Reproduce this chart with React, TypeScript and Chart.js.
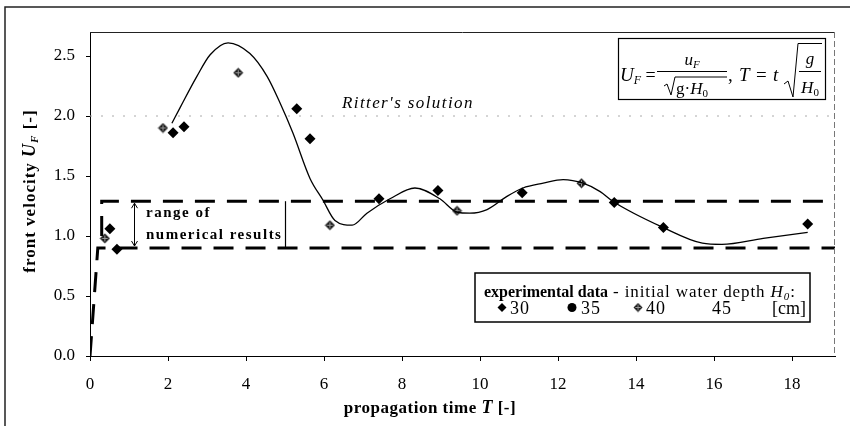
import React, { useEffect, useRef } from "react";
import { Chart, registerables } from "chart.js";

Chart.register(...registerables);

// ---- data ----
const xTicks = [0, 2, 4, 6, 8, 10, 12, 14, 16, 18];
const yTicks = [0, 0.5, 1.0, 1.5, 2.0, 2.5];

const ritterT = [2.1, 2.31, 2.74, 3.08, 3.54, 4.1, 4.54, 4.87, 5.2, 5.64, 5.97, 6.28, 6.72, 7.1, 7.69, 8.33, 8.97, 9.4, 9.74, 10.18, 10.69, 11.1, 11.62, 12.13, 12.64, 13.08, 13.4, 14.7, 15.7, 16.2, 17.26, 18.4];
const ritterU = [1.94, 2.07, 2.33, 2.51, 2.61, 2.52, 2.33, 2.11, 1.86, 1.48, 1.3, 1.13, 1.09, 1.19, 1.31, 1.4, 1.31, 1.2, 1.19, 1.22, 1.33, 1.4, 1.44, 1.47, 1.44, 1.37, 1.29, 1.07, 0.94, 0.93, 0.98, 1.03];

const exp30T = [0.51, 0.69, 2.13, 2.41, 5.3, 5.64, 7.41, 8.92, 11.08, 13.44, 14.7, 18.4];
const exp30U = [1.06, 0.89, 1.86, 1.91, 2.06, 1.81, 1.31, 1.38, 1.36, 1.28, 1.07, 1.1];

const exp40T = [0.38, 1.87, 3.8, 6.15, 9.41, 12.6];
const exp40U = [0.98, 1.9, 2.36, 1.09, 1.21, 1.44];

const ritterLevelT = [0, 19.1];
const ritterLevelU = [2.0, 2.0];

const numUpperT = [0.3, 0.3, 19.1];
const numUpperU = [1.0, 1.29, 1.29];
const numLowerT = [0, 0.2, 19.1];
const numLowerU = [0, 0.9, 0.9];

const legendDepths = ["30", "35", "40", "45"];

const SERIF = "'Liberation Serif', 'DejaVu Serif', serif";

const pts = (xs: number[], ys: number[]) => xs.map((x, i) => ({ x, y: ys[i] }));

function make40Marker(): HTMLCanvasElement {
  const c = document.createElement("canvas");
  c.width = 11;
  c.height = 11;
  const g = c.getContext("2d")!;
  g.fillStyle = "#1a1a1a";
  g.beginPath();
  g.moveTo(5.5, 0.5);
  g.lineTo(10.5, 5.5);
  g.lineTo(5.5, 10.5);
  g.lineTo(0.5, 5.5);
  g.closePath();
  g.fill();
  g.strokeStyle = "#999";
  g.lineWidth = 1;
  g.beginPath();
  g.moveTo(5.5, 2.5);
  g.lineTo(5.5, 8.5);
  g.moveTo(2.5, 5.5);
  g.lineTo(8.5, 5.5);
  g.stroke();
  return c;
}

type Seg = { t: string; f: string; dy?: number };

function richWidth(ctx: CanvasRenderingContext2D, segs: Seg[]) {
  let w = 0;
  for (const s of segs) {
    ctx.font = s.f;
    w += ctx.measureText(s.t).width;
  }
  return w;
}

function drawRich(ctx: CanvasRenderingContext2D, x: number, y: number, segs: Seg[], align: "left" | "center" = "left", spacing = "0px"): number {
  (ctx as any).letterSpacing = spacing;
  let cx = align === "center" ? x - richWidth(ctx, segs) / 2 : x;
  ctx.textAlign = "left";
  for (const s of segs) {
    ctx.font = s.f;
    ctx.fillText(s.t, cx, y + (s.dy || 0));
    cx += ctx.measureText(s.t).width;
  }
  (ctx as any).letterSpacing = "0px";
  return cx;
}

const annotations = {
  id: "annotations",
  afterDraw(chart: any) {
    const ctx: CanvasRenderingContext2D = chart.ctx;
    const a = chart.chartArea;
    const ys = chart.scales.y;
    ctx.save();

    // outer frame
    ctx.lineWidth = 1.5;
    ctx.strokeStyle = "#222";
    ctx.beginPath();
    ctx.moveTo(5, 426);
    ctx.lineTo(5, 7);
    ctx.lineTo(850, 7);
    ctx.stroke();

    // plot frame top / right
    ctx.lineWidth = 1;
    ctx.strokeStyle = "#222";
    ctx.beginPath();
    ctx.moveTo(a.left, a.top + 0.5);
    ctx.lineTo(a.right, a.top + 0.5);
    ctx.stroke();
    ctx.strokeStyle = "#777";
    ctx.setLineDash([6, 3]);
    ctx.beginPath();
    ctx.moveTo(a.right - 0.5, a.top);
    ctx.lineTo(a.right - 0.5, a.bottom);
    ctx.stroke();
    ctx.setLineDash([]);

    ctx.fillStyle = "#000";
    ctx.strokeStyle = "#000";
    ctx.textBaseline = "alphabetic";

    // axis titles
    drawRich(ctx, 430, 413, [
      { t: "propagation time ", f: `bold 17px ${SERIF}` },
      { t: "T", f: `italic bold 18px ${SERIF}` },
      { t: " [-]", f: `bold 17px ${SERIF}` },
    ], "center", "0.5px");

    ctx.save();
    ctx.translate(35, 191);
    ctx.rotate(-Math.PI / 2);
    drawRich(ctx, 0, 0, [
      { t: "front velocity ", f: `bold 17px ${SERIF}` },
      { t: "U", f: `italic bold 18px ${SERIF}` },
      { t: "F", f: `italic bold 11px ${SERIF}`, dy: 3 },
      { t: " [-]", f: `bold 17px ${SERIF}` },
    ], "center", "1px");
    ctx.restore();

    // Ritter label
    drawRich(ctx, 342, 108, [{ t: "Ritter's solution", f: `italic 17px ${SERIF}` }], "left", "1.4px");

    // range of numerical results
    const yTop = ys.getPixelForValue(numUpperU[2]);
    const yBot = ys.getPixelForValue(numLowerU[2]);
    ctx.lineWidth = 1.2;
    ctx.beginPath();
    ctx.moveTo(285.5, yTop);
    ctx.lineTo(285.5, yBot);
    ctx.stroke();
    const ax = 134.5;
    ctx.lineWidth = 1;
    ctx.beginPath();
    ctx.moveTo(ax, yTop + 2);
    ctx.lineTo(ax, yBot - 2);
    ctx.moveTo(ax - 3, yTop + 7);
    ctx.lineTo(ax, yTop + 2);
    ctx.lineTo(ax + 3, yTop + 7);
    ctx.moveTo(ax - 3, yBot - 7);
    ctx.lineTo(ax, yBot - 2);
    ctx.lineTo(ax + 3, yBot - 7);
    ctx.stroke();
    drawRich(ctx, 146, 217, [{ t: "range of", f: `bold 15px ${SERIF}` }], "left", "1.5px");
    drawRich(ctx, 146, 239, [{ t: "numerical results", f: `bold 15px ${SERIF}` }], "left", "1.5px");

    // formula box
    ctx.lineWidth = 1.2;
    ctx.strokeRect(618.5, 38.5, 207, 61);
    ctx.lineWidth = 1;
    drawRich(ctx, 620, 81, [
      { t: "U", f: `italic 19px ${SERIF}` },
      { t: "F", f: `italic 12px ${SERIF}`, dy: 3 },
      { t: " = ", f: `18px ${SERIF}` },
    ]);
    ctx.beginPath();
    ctx.moveTo(657, 71.5);
    ctx.lineTo(727, 71.5);
    ctx.stroke();
    drawRich(ctx, 692, 65, [
      { t: "u", f: `italic 17px ${SERIF}` },
      { t: "F", f: `italic 11px ${SERIF}`, dy: 3 },
    ], "center");
    ctx.beginPath();
    ctx.moveTo(664, 86);
    ctx.lineTo(667, 84);
    ctx.lineTo(671, 95);
    ctx.lineTo(675, 77);
    ctx.lineTo(727, 77);
    ctx.stroke();
    drawRich(ctx, 676, 94, [
      { t: "g", f: `17px ${SERIF}` },
      { t: "·", f: `17px ${SERIF}` },
      { t: "H", f: `italic 17px ${SERIF}` },
      { t: "0", f: `11px ${SERIF}`, dy: 3 },
    ]);
    drawRich(ctx, 728, 81, [
      { t: ", ", f: `19px ${SERIF}` },
      { t: "T", f: `italic 19px ${SERIF}` },
      { t: " = ", f: `19px ${SERIF}` },
      { t: "t", f: `italic 19px ${SERIF}` },
    ], "left", "0.8px");
    ctx.beginPath();
    ctx.moveTo(784, 84);
    ctx.lineTo(788, 81);
    ctx.lineTo(793, 97);
    ctx.lineTo(798, 43.5);
    ctx.lineTo(822, 43.5);
    ctx.stroke();
    ctx.beginPath();
    ctx.moveTo(799, 71.5);
    ctx.lineTo(821, 71.5);
    ctx.stroke();
    drawRich(ctx, 810, 64, [{ t: "g", f: `italic 17px ${SERIF}` }], "center");
    drawRich(ctx, 810, 93, [
      { t: "H", f: `italic 17px ${SERIF}` },
      { t: "0", f: `11px ${SERIF}`, dy: 3 },
    ], "center");

    // legend box
    ctx.lineWidth = 1.5;
    ctx.strokeRect(475, 273, 335, 49);
    const endBold = drawRich(ctx, 484, 297, [{ t: "experimental data", f: `bold 16px ${SERIF}` }]);
    drawRich(ctx, endBold + 5, 297, [
      { t: "- initial water depth ", f: `17px ${SERIF}` },
      { t: "H", f: `italic 17px ${SERIF}` },
      { t: "0", f: `italic 11px ${SERIF}`, dy: 3 },
      { t: ":", f: `17px ${SERIF}` },
    ], "left", "0.9px");
    const rowY = 314;
    const my = 307.5;
    // marker 30: black diamond
    ctx.beginPath();
    ctx.moveTo(502, my - 4.5);
    ctx.lineTo(506.5, my);
    ctx.lineTo(502, my + 4.5);
    ctx.lineTo(497.5, my);
    ctx.closePath();
    ctx.fill();
    // marker 35: circle
    ctx.beginPath();
    ctx.arc(572, my, 4.5, 0, Math.PI * 2);
    ctx.fill();
    // marker 40
    ctx.drawImage(make40Marker(), 633, my - 5, 10, 10);
    drawRich(ctx, 510, rowY, [{ t: legendDepths[0], f: `18px ${SERIF}` }], "left", "1px");
    drawRich(ctx, 581, rowY, [{ t: legendDepths[1], f: `18px ${SERIF}` }], "left", "1px");
    drawRich(ctx, 646, rowY, [{ t: legendDepths[2], f: `18px ${SERIF}` }], "left", "1px");
    drawRich(ctx, 712, rowY, [{ t: legendDepths[3], f: `18px ${SERIF}` }], "left", "1px");
    drawRich(ctx, 772, rowY, [{ t: "[cm]", f: `18px ${SERIF}` }]);

    ctx.restore();
  },
};

export default function App() {
  const ref = useRef<HTMLCanvasElement>(null);
  useEffect(() => {
    document.body.style.margin = "0";
    const marker40 = make40Marker();
    const chart = new Chart(ref.current!, {
      type: "scatter",
      data: {
        datasets: [
          {
            label: "Ritter level",
            data: pts(ritterLevelT, ritterLevelU),
            showLine: true,
            borderColor: "#aaa",
            borderWidth: 1,
            borderDash: [2, 9],
            pointRadius: 0,
          },
          {
            label: "numerical upper",
            data: pts(numUpperT, numUpperU),
            showLine: true,
            borderColor: "#000",
            borderWidth: 3,
            borderDash: [20, 12],
            pointRadius: 0,
          },
          {
            label: "numerical lower",
            data: pts(numLowerT, numLowerU),
            showLine: true,
            borderColor: "#000",
            borderWidth: 3,
            borderDash: [20, 12],
            pointRadius: 0,
          },
          {
            label: "Ritter's solution",
            data: pts(ritterT, ritterU),
            showLine: true,
            borderColor: "#000",
            borderWidth: 1.3,
            cubicInterpolationMode: "monotone",
            pointRadius: 0,
          },
          {
            label: "30",
            data: pts(exp30T, exp30U),
            pointStyle: "rectRot",
            pointRadius: 5.5,
            backgroundColor: "#000",
            borderColor: "#000",
            borderWidth: 0,
          },
          {
            label: "40",
            data: pts(exp40T, exp40U),
            pointStyle: marker40 as any,
            pointRadius: 5,
          },
        ],
      },
      options: {
        animation: false,
        responsive: false,
        events: [],
        layout: { padding: { top: 32, right: 16, left: 0, bottom: 0 } },
        plugins: { legend: { display: false }, tooltip: { enabled: false } },
        scales: {
          x: {
            type: "linear",
            min: 0,
            max: 19.1,
            afterFit: (s: any) => {
              s.height = 71;
            },
            afterBuildTicks: (s: any) => {
              s.ticks = xTicks.map((v) => ({ value: v }));
            },
            grid: { display: true, drawOnChartArea: false, drawTicks: true, tickLength: 5, color: "#000" },
            border: { display: true, color: "#000", width: 1 },
            ticks: {
              color: "#000",
              font: { family: SERIF, size: 17 },
              padding: 13,
              maxRotation: 0,
              callback: (v: any) => String(v),
            },
          },
          y: {
            type: "linear",
            min: 0,
            max: 2.7,
            afterFit: (s: any) => {
              s.width = 90;
            },
            afterBuildTicks: (s: any) => {
              s.ticks = yTicks.map((v) => ({ value: v }));
            },
            grid: { display: true, drawOnChartArea: false, drawTicks: true, tickLength: 4, color: "#000" },
            border: { display: true, color: "#000", width: 1 },
            ticks: {
              color: "#000",
              font: { family: SERIF, size: 17 },
              padding: 11,
              callback: (v: any) => Number(v).toFixed(1),
            },
          },
        },
      },
      plugins: [annotations],
    });
    return () => chart.destroy();
  }, []);
  return (
    <div style={{ width: 851, height: 427 }}>
      <canvas ref={ref} width={851} height={427} style={{ display: "block" }} />
    </div>
  );
}
